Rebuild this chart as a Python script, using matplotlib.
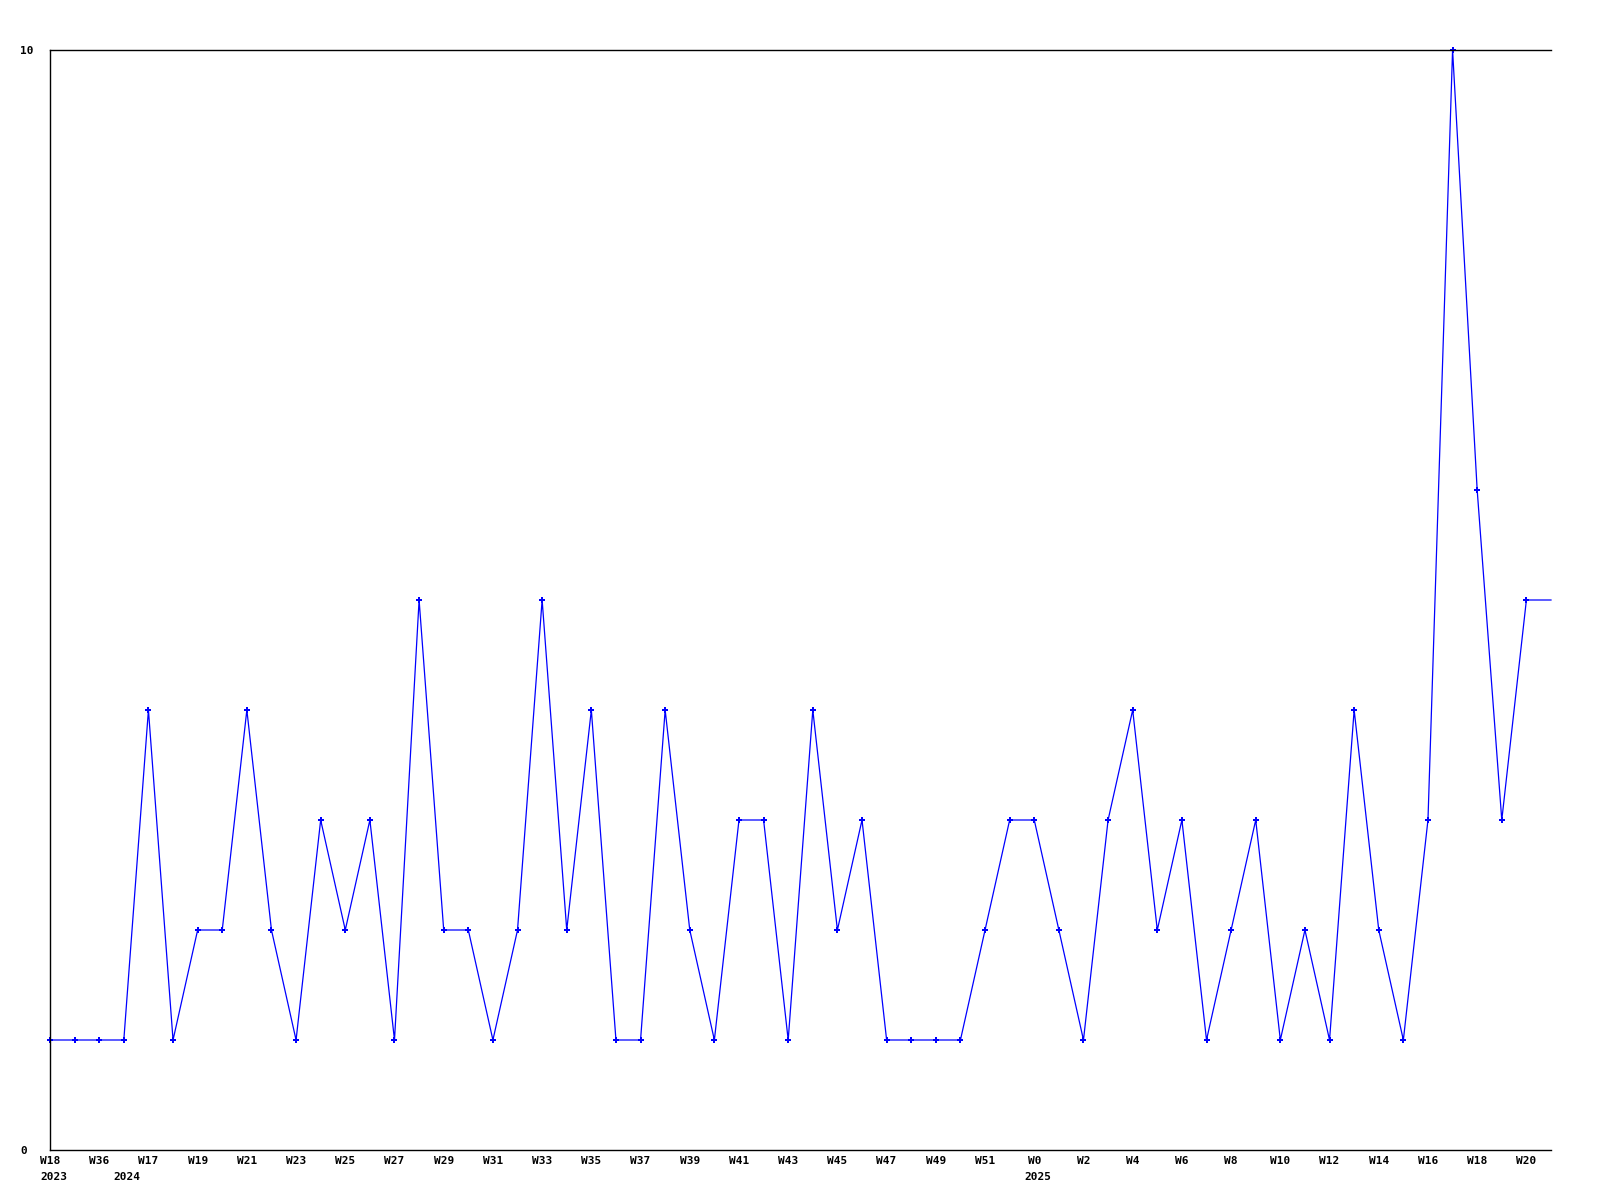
import numpy as np
import matplotlib
matplotlib.use("Agg")
import matplotlib.pyplot as plt
import matplotlib.transforms as transforms

# weekly counts, one per week, last value repeats up to the right edge
counts = [1, 1, 1, 1, 4, 1, 2, 2, 4, 2,
          1, 3, 2, 3, 1, 5, 2, 2, 1, 2,
          5, 2, 4, 1, 1, 4, 2, 1, 3, 3,
          1, 4, 2, 3, 1, 1, 1, 1, 2, 3,
          3, 2, 1, 3, 4, 2, 3, 1, 2, 3,
          1, 2, 1, 4, 2, 1, 3, 10, 6, 3,
          5]
week_labels = ["W18", "W36", "W17", "W19", "W21", "W23", "W25", "W27", "W29", "W31",
               "W33", "W35", "W37", "W39", "W41", "W43", "W45", "W47", "W49", "W51",
               "W0", "W2", "W4", "W6", "W8", "W10", "W12", "W14", "W16", "W18", "W20"]
year_labels = {0: "2023", 3: "2024", 40: "2025"}

font = dict(family="DejaVu Sans Mono", weight="bold", size=8)

fig = plt.figure(figsize=(16, 12), dpi=100)
ax = fig.add_axes([50/1600, 50/1200, 1501/1600, 1100/1200])

n = len(counts)
x = np.arange(n)
# extend the line one step past the last point (no marker there)
xe = np.append(x, n)
ye = counts + [counts[-1]]
ax.plot(xe, ye, color="#0000ff", lw=0.9, clip_on=False)
ax.plot(x, counts, ls="none", marker="P", ms=4, color="#0000ff", mew=0, clip_on=False)

ax.set_xlim(0, n)
ax.set_ylim(0, 10)

for s in ["left", "top", "bottom"]:
    ax.spines[s].set_linewidth(1.0)
    ax.spines[s].set_color("black")
ax.spines["right"].set_visible(False)

ax.set_xticks(x[::2])
ax.set_xticklabels(week_labels, **font)
ax.tick_params(axis="x", length=0, pad=4)

ax.set_yticks([0, 10])
ax.set_yticklabels(["0", "10"], **font)
ax.tick_params(axis="y", length=0, pad=21.6)
for lab in ax.get_yticklabels():
    lab.set_ha("left")

trans = transforms.blended_transform_factory(ax.transData, ax.transAxes)
for i, yr in year_labels.items():
    t = ax.text(i, 0, yr, transform=trans, ha="left", va="top", **font)
    t.set_transform(trans + transforms.ScaledTranslation(-10/100, -22/100, fig.dpi_scale_trans))

fig.savefig("out.png", dpi=100, facecolor="white")
